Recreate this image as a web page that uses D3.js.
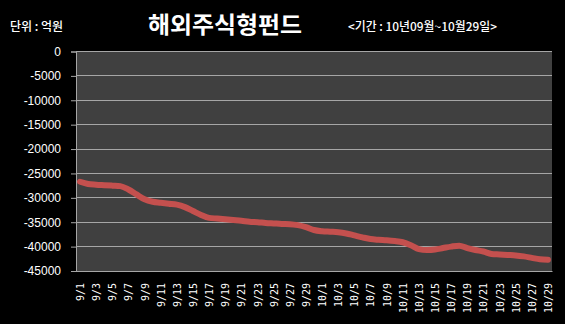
<!DOCTYPE html>
<html><head><meta charset="utf-8">
<script src="https://cdn.jsdelivr.net/npm/d3@7"></script>
<style>
html,body{margin:0;padding:0;background:#000;}
svg{display:block;}
</style></head>
<body>
<svg id="chart" width="565" height="324"></svg>
<script>
const title = "해외주식형펀드";
const unitLabel = "단위 : 억원";
const periodLabel = "<기간 : 10년09월~10월29일>";
const dates = [
 "9/1","9/2","9/3","9/4","9/5","9/6","9/7","9/8","9/9","9/10",
 "9/11","9/12","9/13","9/14","9/15","9/16","9/17","9/18","9/19","9/20",
 "9/21","9/22","9/23","9/24","9/25","9/26","9/27","9/28","9/29","9/30",
 "10/1","10/2","10/3","10/4","10/5","10/6","10/7","10/8","10/9","10/10",
 "10/11","10/12","10/13","10/14","10/15","10/16","10/17","10/18","10/19","10/20",
 "10/21","10/22","10/23","10/24","10/25","10/26","10/27","10/28","10/29"];
const values = [
 -26700,-27150,-27300,-27400,-27500,-27600,-28300,-29300,-30300,-30800,
 -31000,-31200,-31400,-31900,-32700,-33500,-34100,-34250,-34400,-34550,
 -34700,-34900,-35000,-35150,-35250,-35350,-35400,-35600,-36000,-36600,
 -36850,-36950,-37050,-37300,-37700,-38100,-38450,-38600,-38700,-38850,
 -39100,-39700,-40500,-40700,-40600,-40300,-40000,-39800,-40300,-40700,
 -41000,-41500,-41600,-41700,-41800,-42000,-42300,-42600,-42700];
const yTicks = [0,-5000,-10000,-15000,-20000,-25000,-30000,-35000,-40000,-45000];

const svg = d3.select("#chart");
const L = 76, R = 552, T = 51.5, B = 271;

svg.append("rect").attr("x",0).attr("y",0).attr("width",565).attr("height",324).attr("fill","#000");
svg.append("rect").attr("x",L).attr("y",T).attr("width",R-L).attr("height",B-T).attr("fill","#404040");

const x = d3.scalePoint().domain(dates).range([L,R]).padding(0.5);
const y = d3.scaleLinear().domain([-45000,0]).range([B,T]);

// gridlines
svg.append("g").selectAll("line").data(yTicks).join("line")
  .attr("x1",L).attr("x2",R).attr("y1",d=>y(d)).attr("y2",d=>y(d))
  .attr("stroke","#a6a6a6").attr("stroke-width",1).attr("shape-rendering","crispEdges");

// y axis
const yAxis = d3.axisLeft(y).tickValues(yTicks).tickSize(5).tickPadding(10).tickFormat(d=>String(d));
const gy = svg.append("g").attr("transform",`translate(${L},0)`).call(yAxis);
gy.select(".domain").attr("stroke","#a6a6a6");
gy.selectAll(".tick line").attr("stroke","#a6a6a6");
gy.selectAll("text").attr("fill","#fff").attr("font-family","'Liberation Sans',Arial,sans-serif").attr("font-size",12);

// x axis
const labelDates = dates.filter((d,i)=>i%2===0);
const xAxis = d3.axisBottom(x).tickValues(labelDates).tickSize(0).tickPadding(0);
const gx = svg.append("g").attr("transform",`translate(0,${B})`).call(xAxis);
gx.select(".domain").attr("stroke","#a6a6a6");
gx.selectAll("text")
  .attr("fill","#fff").attr("font-family","'DejaVu Sans Mono',monospace").attr("font-size",10)
  .attr("text-anchor","end").attr("dy",null).attr("y",0)
  .attr("transform","translate(3.5,12) rotate(-90)");

// line
const line = d3.line().x((d,i)=>x(dates[i])).y(d=>y(d)).curve(d3.curveMonotoneX);
svg.append("path").datum(values).attr("d",line)
  .attr("fill","none").attr("stroke","#c4504e").attr("stroke-width",6)
  .attr("stroke-linejoin","round").attr("stroke-linecap","round");

// titles
svg.append("text").attr("x",225).attr("y",33).attr("text-anchor","middle")
  .attr("fill","#fff").attr("font-family","'Noto Sans CJK KR',sans-serif").attr("font-weight","bold").attr("font-size",23)
  .attr("textLength",154).attr("lengthAdjust","spacingAndGlyphs")
  .text(title);
svg.append("text").attr("x",10).attr("y",31)
  .attr("fill","#fff").attr("font-family","'Noto Sans CJK KR',sans-serif").attr("font-weight",500).attr("font-size",12)
  .text(unitLabel);
svg.append("text").attr("x",348).attr("y",31)
  .attr("fill","#fff").attr("font-family","'Noto Sans CJK KR',sans-serif").attr("font-weight",500).attr("font-size",12)
  .attr("textLength",149).attr("lengthAdjust","spacingAndGlyphs")
  .text(periodLabel);
</script>
</body></html>
